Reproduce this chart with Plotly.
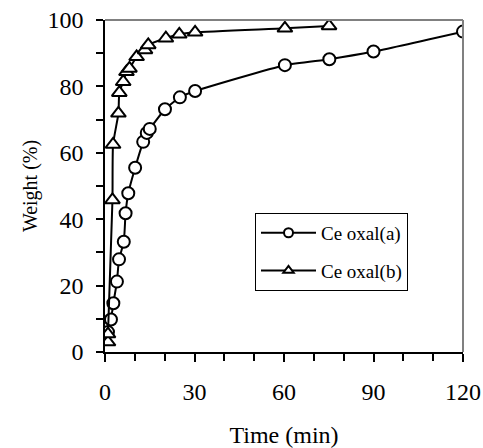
import plotly.graph_objects as go

# Ce oxal(a) - circles
time_a = [1.0, 2.0, 2.8, 4.0, 4.7, 6.3, 6.9, 7.8, 10.1, 12.8, 14.0, 15.0, 20.1, 25.1, 30.2, 60.3, 75.2, 90.0, 120.0]
weight_a = [6.0, 9.8, 14.7, 21.2, 27.9, 33.2, 41.8, 47.8, 55.5, 63.3, 66.0, 67.2, 73.1, 76.7, 78.6, 86.4, 88.2, 90.5, 96.5]

# Ce oxal(b) - triangles
time_b = [1.0, 1.0, 2.5, 2.7, 4.5, 4.8, 6.1, 7.2, 8.2, 10.6, 13.4, 14.5, 20.4, 24.9, 30.2, 60.3, 75.1]
weight_b = [3.0, 5.4, 45.8, 62.5, 71.9, 78.1, 81.4, 84.4, 85.4, 88.9, 91.0, 92.5, 94.5, 95.7, 96.3, 97.5, 98.2]

names = ["Ce oxal(a)", "Ce oxal(b)"]

FONT = "Liberation Serif"

fig = go.Figure()
fig.add_trace(go.Scatter(
    x=time_a, y=weight_a, mode="lines+markers", name=names[0], showlegend=False,
    line=dict(color="black", width=2, shape="spline", smoothing=0.5),
    marker=dict(symbol="circle", size=12, color="white", line=dict(color="black", width=2)),
))
fig.add_trace(go.Scatter(
    x=time_b, y=weight_b, mode="lines+markers", name=names[1], showlegend=False,
    line=dict(color="black", width=2, shape="spline", smoothing=0.5),
    marker=dict(symbol="triangle-up", size=13, color="white", line=dict(color="black", width=2)),
))
# legend entries
fig.add_trace(go.Scatter(
    x=[None], y=[None], mode="lines+markers", name=names[0], legendgroup="a",
    line=dict(color="black", width=2),
    marker=dict(symbol="circle", size=9, color="white", line=dict(color="black", width=2)),
))
fig.add_trace(go.Scatter(
    x=[None], y=[None], mode="lines+markers", name=names[1], legendgroup="b",
    line=dict(color="black", width=2),
    marker=dict(symbol="triangle-up", size=9, color="white", line=dict(color="black", width=2)),
))

fig.update_layout(
    width=483, height=448,
    margin=dict(l=105, r=20, t=20, b=96, autoexpand=False),
    paper_bgcolor="white", plot_bgcolor="white",
    font=dict(family=FONT, color="black", size=24),
    legend=dict(
        x=0.419, y=0.419, xanchor="left", yanchor="top",
        bgcolor="white", bordercolor="black", borderwidth=1,
        font=dict(family=FONT, size=19, color="black"),
        itemwidth=55, tracegroupgap=10,
    ),
    xaxis=dict(
        range=[0, 120], tickvals=[0, 30, 60, 90, 120], ticks="outside", ticklen=8,
        tickwidth=1.5, tickcolor="black", showline=True, linecolor="black", linewidth=1.5,
        showgrid=False, zeroline=False, automargin=False, ticklabelstandoff=9,
        minor=dict(tickvals=[10, 20, 40, 50, 70, 80, 100, 110], ticks="outside", ticklen=7,
                   tickwidth=1.5, tickcolor="black", showgrid=False),
        title=dict(text="Time (min)", font=dict(family=FONT, size=24, color="black"), standoff=35),
        tickfont=dict(family=FONT, size=24, color="black"),
    ),
    yaxis=dict(
        range=[0, 100], tickvals=[0, 20, 40, 60, 80, 100], ticks="outside", ticklen=7,
        tickwidth=1.5, tickcolor="black", showline=True, linecolor="black", linewidth=1.5,
        showgrid=False, zeroline=False, automargin=False, ticklabelstandoff=8,
        minor=dict(tickvals=[10, 30, 50, 70, 90], ticks="outside", ticklen=7,
                   tickwidth=1.5, tickcolor="black", showgrid=False),
        title=dict(text="Weight (%)", font=dict(family=FONT, size=20, color="black"), standoff=4),
        tickfont=dict(family=FONT, size=24, color="black"),
    ),
    shapes=[
        dict(type="line", xref="paper", yref="paper", x0=0, x1=1, y0=1, y1=1,
             line=dict(color="#808080", width=2)),
        dict(type="line", xref="paper", yref="paper", x0=1, x1=1, y0=0, y1=1,
             line=dict(color="#808080", width=2)),
    ],
)

fig.write_html("out.html")
